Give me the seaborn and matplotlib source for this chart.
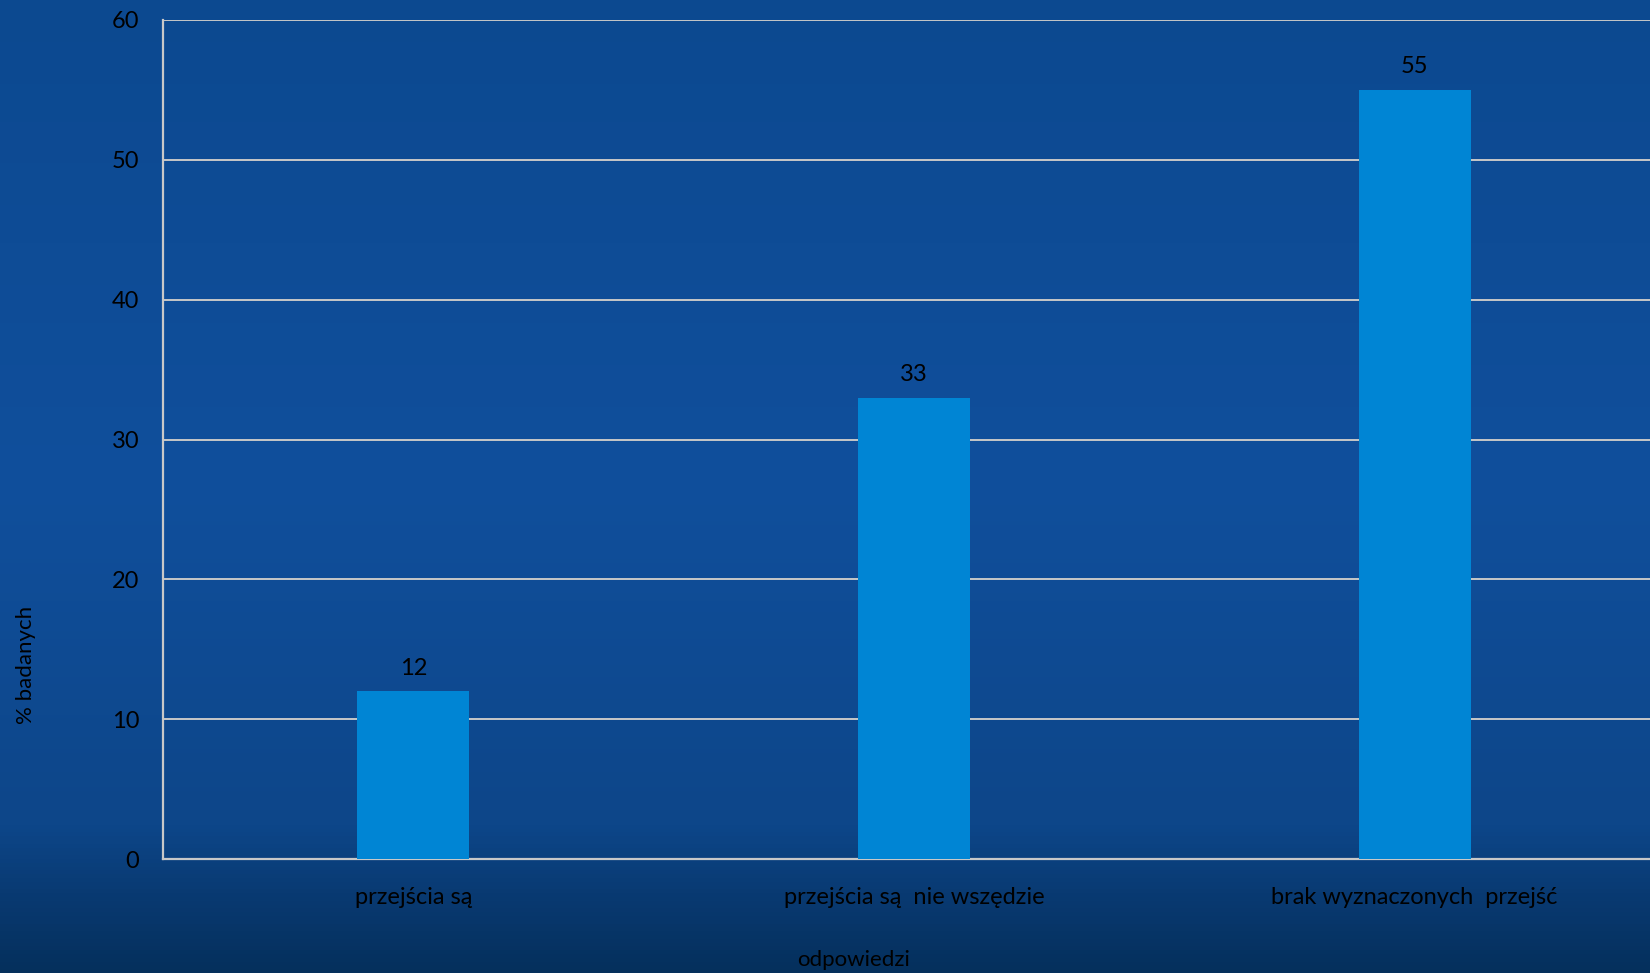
import numpy as np
import pandas as pd
import matplotlib
matplotlib.use("Agg")
import matplotlib.pyplot as plt
from matplotlib.colors import LinearSegmentedColormap
import seaborn as sns

categories = ["przejścia są", "przejścia są  nie wszędzie", "brak wyznaczonych  przejść"]
values = [12, 33, 55]
yticks = [0, 10, 20, 30, 40, 50, 60]
ylabel = "% badanych"
xlabel = "odpowiedzi"

sns.set_theme(style="white")
plt.rcParams['font.family'] = ['Lato', 'DejaVu Sans']

W, H = 1650, 973
fig = plt.figure(figsize=(W / 100, H / 100), dpi=100)

# background gradient
bg = fig.add_axes([0, 0, 1, 1], zorder=0)
cmap = LinearSegmentedColormap.from_list(
    "bgc", [(0.0, "#0c4990"), (0.5, "#104f9c"), (0.85, "#0d4689"), (0.92, "#093a72"), (1.0, "#05305c")])
grad = np.linspace(0, 1, 256).reshape(-1, 1)
bg.imshow(grad, aspect="auto", cmap=cmap, extent=[0, 1, 1, 0])
bg.set_axis_off()

left, right = 163, 1665
top, bottom = 20, 859
ax = fig.add_axes([left / W, 1 - bottom / H, (right - left) / W, (bottom - top) / H], zorder=1)
ax.patch.set_alpha(0)

df = pd.DataFrame({"cat": categories, "val": values})
sns.barplot(data=df, x="cat", y="val", color="#0085d4", saturation=1, width=0.224,
            linewidth=0, edgecolor="none", ax=ax, zorder=3)

ax.set_ylim(0, 60)
ax.set_xlim(-0.5, 2.5)
ax.set_yticks(yticks)
ax.set_yticklabels([str(t) for t in yticks], fontsize=17, color="black")
ax.tick_params(axis="x", labelsize=17, colors="black", pad=20, length=0)
ax.tick_params(axis="y", pad=17, length=0)
ax.yaxis.grid(True, color="#c8c8c8", linewidth=1.4, zorder=1)
ax.set_axisbelow(True)
for s in ["top", "right"]:
    ax.spines[s].set_visible(False)
for s in ["left", "bottom"]:
    ax.spines[s].set_color("#c8c8c8")
    ax.spines[s].set_linewidth(1.6)

for p, v in zip(ax.patches, values):
    ax.annotate(str(v), (p.get_x() + p.get_width() / 2, p.get_height()),
                xytext=(0, 9), textcoords="offset points", ha="center", va="bottom",
                fontsize=17, color="black")

ax.set_xlabel(xlabel, fontsize=16, color="black")
ax.xaxis.set_label_coords((854 - left) / (right - left), -(960 - bottom) / (bottom - top), transform=ax.transAxes)
ax.xaxis.label.set_va("center")
ax.set_ylabel(ylabel, fontsize=16, color="black")
ax.yaxis.set_label_coords(-(left - 26) / (right - left), (bottom - 665) / (bottom - top), transform=ax.transAxes)
ax.yaxis.label.set_va("center")

fig.savefig("out.png", dpi=100)
